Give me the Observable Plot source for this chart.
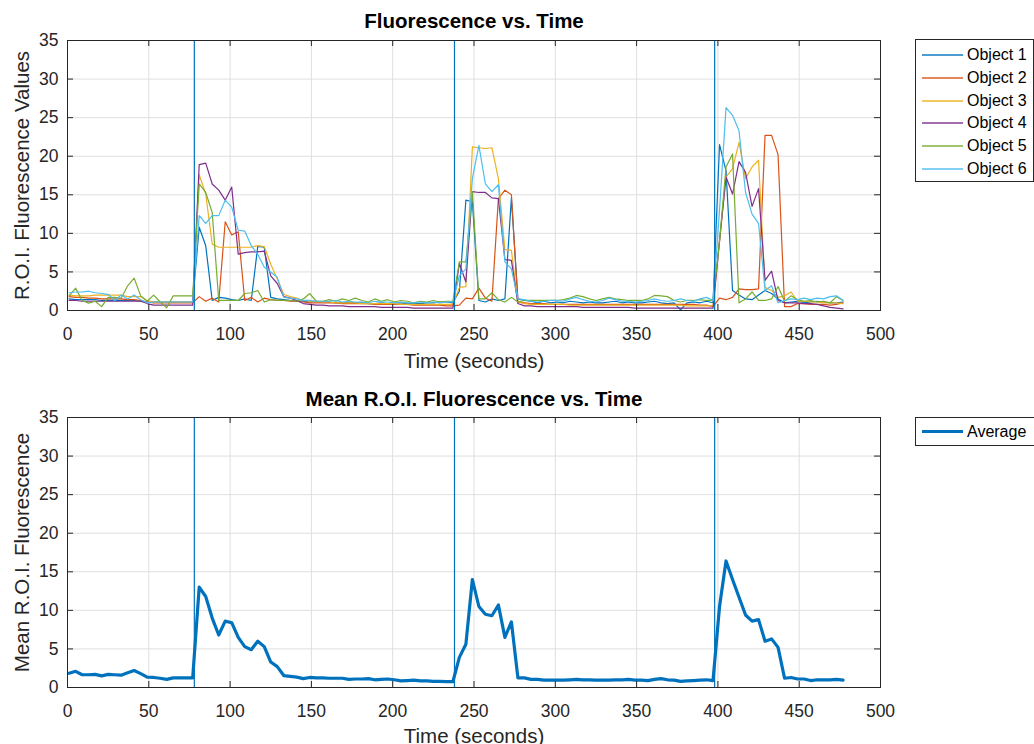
<!DOCTYPE html>
<html>
<head>
<meta charset="utf-8">
<script src="https://cdn.jsdelivr.net/npm/d3@7"></script>
<script src="https://cdn.jsdelivr.net/npm/@observablehq/plot@0.6"></script>
<style>
  html, body { margin: 0; padding: 0; background: #fff; }
  #wrap { position: relative; width: 1034px; height: 744px; overflow: hidden; background: #fff;
          font-family: "Liberation Sans", Arial, sans-serif; }
  .panel { position: absolute; left: 0; }
  .legend { position: absolute; border: 1px solid #262626; background: #fff; box-sizing: border-box; }
  .lrow { position: absolute; left: 0; width: 200px; height: 22px; }
  .lsw { position: absolute; left: 6px; width: 41px; top: 50%; }
  .ltx { position: absolute; left: 51px; top: 50%; transform: translateY(-52%); font-size: 16px; color: #000; white-space: nowrap; }
</style>
</head>
<body>
<div id="wrap"></div>
<script>
// ---------- data ----------
const t0 = 1, dt = 4; // sample start and spacing (seconds)
const seriesNames = ["Object 1", "Object 2", "Object 3", "Object 4", "Object 5", "Object 6"];
const stimTimes = [78, 238, 398];
const xTicks = [0, 50, 100, 150, 200, 250, 300, 350, 400, 450, 500];
const yTicks = [0, 5, 10, 15, 20, 25, 30, 35];

const object1 = [
  1.5,1.4,1.4,1.4,1.4,1.3,1.3,1.3,1.3,1.3,
  1.3,1.2,1.1,1.1,1.1,1.1,1.1,1.1,1.1,1.1,
  10.8,8.4,1.3,1.7,1.6,1.4,1.3,1.5,1.3,8.3,
  8.2,1.7,1.5,1.4,1.3,1.2,1.2,1.1,1.2,1.1,
  1.1,1.0,1.0,1.1,1.0,1.0,0.9,0.9,1.0,0.9,
  1.0,1.0,0.9,0.9,0.9,1.0,1.0,1.1,1.1,1.0,
  2.5,14.3,14.1,1.3,1.1,1.5,1.3,1.5,14.6,1.5,
  1.3,1.2,1.0,1.2,1.0,1.1,1.0,1.2,1.1,1.0,
  1.1,1.0,1.0,1.1,1.2,1.0,1.1,1.0,1.0,1.1,
  1.2,1.0,0.9,1.0,0.1,1.0,1.1,1.0,1.2,1.0,
  21.5,18.1,2.6,2.0,1.5,1.4,2.0,2.6,2.2,1.5,
  1.0,1.1,1.2,1.0,1.1,1.2,1.1,1.0,1.0,1.1
];
const object2 = [
  1.8,1.7,1.7,1.6,1.6,1.5,1.5,1.5,1.5,1.4,
  1.4,1.3,1.1,1.0,1.0,1.0,1.0,1.0,1.0,1.0,
  1.8,1.2,1.6,1.1,11.5,9.8,10.2,1.3,1.7,1.1,
  1.6,1.4,1.3,1.3,1.2,1.2,1.1,1.0,1.0,1.0,
  1.0,1.0,0.9,0.9,0.9,0.9,0.9,0.8,0.8,0.8,
  0.8,0.8,0.8,0.7,0.7,0.7,0.7,0.7,0.6,0.6,
  0.7,1.6,1.5,2.9,1.6,1.2,14.5,15.6,15.0,1.1,
  1.0,0.9,0.9,0.9,0.8,0.8,0.8,0.8,0.8,0.8,
  0.8,0.8,0.8,0.8,0.8,0.8,0.8,0.8,0.8,0.8,
  0.8,0.8,0.8,0.8,0.8,0.8,0.8,0.7,0.7,0.5,
  1.6,1.4,1.7,2.8,2.7,2.7,2.8,22.7,22.7,20.2,
  0.5,0.5,0.9,0.9,0.8,0.8,0.8,0.7,0.8,1.0
];
const object3 = [
  2.0,1.9,1.9,1.9,2.0,2.0,2.0,2.0,2.0,1.8,
  1.8,1.8,1.3,1.1,1.1,1.1,1.1,1.1,1.1,1.1,
  17.6,15.1,8.6,8.2,8.2,8.2,8.2,8.2,8.2,8.4,
  8.3,6.0,4.1,2.1,1.8,1.6,1.3,1.2,1.2,1.1,
  1.1,1.0,1.0,1.0,1.0,0.9,0.9,0.9,0.9,0.9,
  0.9,0.8,0.8,0.8,0.8,0.8,0.8,0.8,0.8,0.8,
  3.0,3.1,21.2,21.1,21.0,21.1,17.1,7.9,7.8,1.1,
  0.9,0.8,0.8,0.8,0.8,0.8,0.8,0.7,0.7,0.7,
  0.7,0.7,0.7,0.7,0.7,0.7,0.7,0.7,0.7,0.7,
  0.7,0.7,0.7,0.7,0.7,0.6,0.6,0.6,0.6,0.6,
  9.0,17.3,18.4,21.8,17.1,18.6,19.5,3.0,2.6,1.7,
  1.9,2.4,1.2,1.2,1.1,1.1,1.0,1.0,1.0,0.9
];
const object4 = [
  1.3,1.3,1.2,1.2,1.2,1.2,1.2,1.2,1.2,1.2,
  1.2,1.2,0.9,0.7,0.7,0.7,0.7,0.7,0.7,0.7,
  18.9,19.1,16.4,15.6,14.3,16.0,7.3,7.5,7.6,7.6,
  7.7,4.5,3.5,1.8,1.6,1.3,0.9,0.8,0.7,0.7,
  0.6,0.6,0.6,0.5,0.5,0.5,0.5,0.5,0.4,0.4,
  0.4,0.4,0.4,0.3,0.3,0.3,0.3,0.3,0.3,0.3,
  6.1,3.7,15.4,15.3,15.3,14.6,14.5,6.6,6.5,0.9,
  0.6,0.6,0.5,0.5,0.5,0.5,0.5,0.5,0.5,0.4,
  0.4,0.4,0.4,0.4,0.4,0.4,0.4,0.3,0.3,0.3,
  0.3,0.3,0.3,0.3,0.3,0.3,0.3,0.3,0.3,0.3,
  9.0,17.3,15.1,19.3,17.9,13.5,15.8,3.9,5.1,1.3,
  1.0,1.0,1.0,0.9,0.9,0.8,0.6,0.4,0.3,0.2
];
const object5 = [
  1.9,2.9,1.3,0.95,1.2,0.5,1.7,1.7,1.6,3.2,
  4.2,1.9,1.2,2.0,1.1,0.35,1.9,1.9,1.9,1.9,
  16.4,15.3,12.7,1.3,1.3,1.3,1.3,2.2,2.3,2.6,
  1.1,1.4,1.3,1.3,1.3,1.2,1.5,2.2,1.2,1.2,
  1.4,1.2,1.5,1.3,1.6,1.3,1.1,1.5,1.2,1.4,
  1.1,1.3,1.2,1.0,1.2,1.1,1.3,1.1,1.2,1.2,
  6.3,6.3,15.4,1.5,1.5,2.3,1.4,1.1,1.7,1.1,
  1.3,1.3,1.3,1.3,1.3,1.3,1.4,1.6,1.95,1.8,
  1.5,1.3,1.5,1.7,1.5,1.4,1.3,1.3,1.3,1.5,
  1.95,1.9,1.8,1.3,1.1,1.3,1.3,1.4,1.3,1.3,
  9.0,18.6,20.3,1.0,1.5,2.4,1.3,1.3,1.5,3.1,
  1.2,1.9,1.4,1.2,1.3,1.1,1.2,1.0,1.8,1.3
];
const object6 = [
  2.3,2.4,2.4,2.5,2.3,2.2,2.1,1.3,2.0,1.5,
  2.0,1.4,1.0,1.1,1.1,1.1,1.1,1.1,1.1,1.1,
  12.3,11.3,12.3,12.3,14.3,13.4,10.4,10.3,8.4,7.3,
  5.6,5.0,4.3,1.7,1.6,1.5,1.3,1.3,1.2,1.2,
  1.2,1.3,1.1,1.2,1.1,1.1,1.0,1.2,1.1,1.1,
  1.0,1.1,1.0,1.0,1.1,1.0,1.1,1.0,1.1,1.1,
  4.5,5.4,17.1,21.4,16.4,15.4,16.3,6.3,5.4,1.5,
  1.4,1.2,1.1,1.2,1.3,1.3,1.2,1.5,1.7,1.4,
  1.2,1.1,1.3,1.6,1.4,1.2,1.2,1.1,1.2,1.3,
  1.5,1.3,1.2,1.3,1.5,1.3,1.2,1.5,1.7,1.3,
  13.0,26.3,25.3,23.3,15.3,12.5,11.3,2.6,3.2,1.0,
  1.3,1.5,1.4,1.6,1.4,1.6,1.5,1.8,1.9,1.3
];
const average = [
  1.85,2.1,1.65,1.65,1.7,1.5,1.7,1.65,1.6,1.9,
  2.2,1.8,1.35,1.3,1.2,1.05,1.25,1.25,1.25,1.25,
  13.0,11.8,9.0,6.8,8.6,8.4,6.5,5.3,4.9,6.0,
  5.3,3.3,2.7,1.55,1.45,1.35,1.15,1.3,1.25,1.25,
  1.2,1.2,1.2,1.05,1.1,1.1,1.15,1.0,1.05,1.1,
  1.0,0.85,0.9,0.95,0.85,0.85,0.8,0.8,0.75,0.75,
  3.9,5.6,14.0,10.5,9.5,9.3,10.7,6.5,8.5,1.25,
  1.25,1.05,1.05,0.95,0.95,0.95,0.95,1.0,1.05,1.0,
  1.0,0.95,0.95,0.95,1.0,1.0,1.05,0.95,0.95,0.9,
  1.05,1.15,1.0,0.95,0.8,0.85,0.9,0.95,1.0,0.9,
  10.5,16.4,14.0,11.7,9.4,8.6,8.8,6.0,6.3,5.2,
  1.2,1.3,1.1,1.1,0.9,1.0,1.0,1.0,1.05,0.95
];
const objects = [object1, object2, object3, object4, object5, object6];

// ---------- styles ----------
const colors = ["#0072BD", "#D95319", "#EDB120", "#7E2F8E", "#77AC30", "#4DBEEE"];
const axisColor = "#262626";
const gridColor = "#dfdfdf";
const FONT = "Liberation Sans, Arial, sans-serif";

const toRows = vals => vals.map((v, i) => ({t: t0 + dt * i, v}));

function panel({title, ylabel, lineMarks, marginTop, marginBottom, titleDy, xlabelDy}) {
  const frameW = 1034 - 67 - 154;
  const frameH = 372 - marginTop - marginBottom;
  const tick = 6;
  return Plot.plot({
    width: 1034, height: 372,
    marginLeft: 67, marginRight: 154, marginTop, marginBottom,
    x: {domain: [0, 500]},
    y: {domain: [0, 35]},
    style: {fontFamily: FONT, fontSize: "17.5px", color: axisColor, background: "transparent", overflow: "visible"},
    marks: [
      Plot.gridX(xTicks, {stroke: gridColor, strokeOpacity: 1}),
      Plot.gridY(yTicks, {stroke: gridColor, strokeOpacity: 1}),
      ...lineMarks,
      Plot.ruleX(stimTimes, {stroke: "#0072BD", strokeWidth: 1.2}),
      Plot.frame({stroke: axisColor}),
      Plot.ruleX(xTicks, {stroke: axisColor, insetTop: frameH - tick}),
      Plot.ruleX(xTicks, {stroke: axisColor, insetBottom: frameH - tick}),
      Plot.ruleY(yTicks, {stroke: axisColor, insetRight: frameW - tick}),
      Plot.ruleY(yTicks, {stroke: axisColor, insetLeft: frameW - tick}),
      Plot.axisX({ticks: xTicks, tickSize: 0, tickPadding: 17, fontSize: 17.5, fill: axisColor, label: null}),
      Plot.axisY({ticks: yTicks, tickSize: 0, tickPadding: 9, fontSize: 17.5, fill: axisColor, label: null}),
      Plot.text([title], {frameAnchor: "top", dy: titleDy, lineAnchor: "middle", textAnchor: "middle", fontWeight: "bold", fontSize: 20.5, fill: "#000"}),
      Plot.text(["Time (seconds)"], {frameAnchor: "bottom", dy: xlabelDy, lineAnchor: "middle", textAnchor: "middle", fontSize: 20.5, fill: axisColor}),
      Plot.text([ylabel], {frameAnchor: "left", rotate: -90, dx: -45, lineAnchor: "middle", textAnchor: "middle", fontSize: 20.5, fill: axisColor})
    ]
  });
}

const wrap = document.getElementById("wrap");

// Top panel
const topLines = objects.map((vals, k) =>
  Plot.line(toRows(vals), {x: "t", y: "v", stroke: colors[k], strokeWidth: 1.2}));
const p1 = panel({
  title: "Fluorescence vs. Time", ylabel: "R.O.I. Fluorescence Values",
  lineMarks: topLines, marginTop: 40, marginBottom: 62, titleDy: -19, xlabelDy: 51
});
p1.classList.add("panel"); p1.style.top = "0px";
wrap.appendChild(p1);

// Bottom panel
const p2 = panel({
  title: "Mean R.O.I. Fluorescence vs. Time", ylabel: "Mean R.O.I. Fluorescence",
  lineMarks: [Plot.line(toRows(average), {x: "t", y: "v", stroke: "#0072BD", strokeWidth: 3.2, strokeLinejoin: "round"})],
  marginTop: 45, marginBottom: 57, titleDy: -18, xlabelDy: 49
});
p2.classList.add("panel"); p2.style.top = "372px";
wrap.appendChild(p2);

// Legends
function legend(entries, left, top, width, height, firstCenter, step) {
  const box = document.createElement("div");
  box.className = "legend";
  Object.assign(box.style, {left: left + "px", top: top + "px", width: width + "px", height: height + "px"});
  entries.forEach((e, i) => {
    const row = document.createElement("div");
    row.className = "lrow";
    row.style.top = (firstCenter + i * step - 11) + "px";
    const sw = document.createElement("div");
    sw.className = "lsw";
    sw.style.borderTop = e.w + "px solid " + e.color;
    sw.style.opacity = e.op;
    sw.style.marginTop = (-e.w / 2) + "px";
    const tx = document.createElement("div");
    tx.className = "ltx";
    tx.textContent = e.name;
    row.appendChild(sw); row.appendChild(tx);
    box.appendChild(row);
  });
  wrap.appendChild(box);
}
legend(seriesNames.map((n, k) => ({name: n, color: colors[k], w: 2, op: 0.7})), 915, 39, 119, 143, 15, 22.8);
legend([{name: "Average", color: "#0072BD", w: 3.2, op: 1}], 915, 417, 140, 29, 14, 0);
</script>
</body>
</html>
